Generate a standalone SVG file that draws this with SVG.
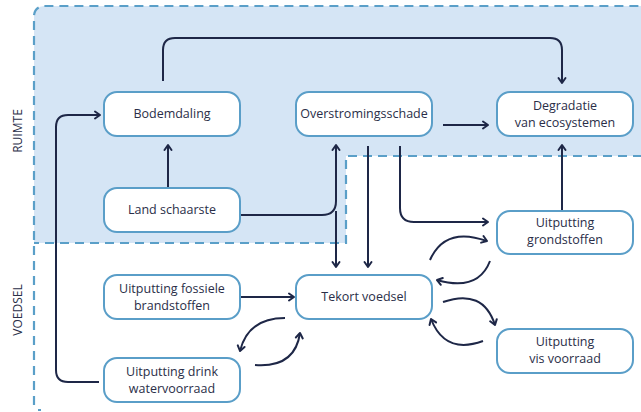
<svg xmlns="http://www.w3.org/2000/svg" width="641" height="412" viewBox="0 0 641 412">
<defs>
<style>
.region{fill:#d5e5f5;stroke:none}
.border{fill:none;stroke:#5a9fc8;stroke-width:2.2;stroke-dasharray:9 6}
.node rect{fill:#ffffff;stroke:#5a9ec8;stroke-width:2}
.node text{font-family:"Open Sans","Noto Sans",sans-serif;font-size:12.5px;fill:#2a2e48;text-anchor:middle}
.lbl{font-family:"Open Sans","Noto Sans",sans-serif;font-size:12px;fill:#2a2e48;text-anchor:middle}
.conn path{fill:none;stroke:#1e2747;stroke-width:2;marker-end:url(#arr)}
</style>
<marker id="arr" viewBox="0 0 10 10" refX="8" refY="5" markerWidth="10" markerHeight="10" markerUnits="userSpaceOnUse" orient="auto">
<path d="M3,1.5 L8,5 L3,8.5" fill="none" stroke="#1e2747" stroke-width="2" stroke-linecap="round" stroke-linejoin="round"/>
</marker>
</defs>
<path class="region" d="M34,16 A10,10 0 0 1 44,6 H642 V156 H346 V243 H34 Z"/>
<path class="border" d="M34,405 V16 A10,10 0 0 1 44,6 H642"/>
<path class="border" d="M642,156 H346 V243 H34"/>
<path d="M38,410 H41" fill="none" stroke="#5a9fc8" stroke-width="2"/>
<text class="lbl" transform="translate(22,131) rotate(-90)">RUIMTE</text>
<text class="lbl" transform="translate(22,310) rotate(-90)">VOEDSEL</text>
<g class="conn" id="connectors">
<path d="M163,81 V50 Q163,38 175,38 H550 Q562,38 562,50 V83"/>
<path d="M168,188 V145"/>
<path d="M99,382 H68 Q56,382 56,370 V127 Q56,115 68,115 H100"/>
<path d="M240,215 H322 Q336,215 336,201 V145"/>
<path d="M336,211 V267"/>
<path d="M368,146 V267"/>
<path d="M400,146 V208 Q400,222 414,222 H488"/>
<path d="M443,125 H488"/>
<path d="M562,211 V145"/>
<path d="M240,297 H294"/>
<path d="M285,318 Q248,318 240,351"/>
<path d="M255,365 Q295,368 300,333"/>
<path d="M430,260 Q445,226 487,241"/>
<path d="M490,261 Q478,292 437,280"/>
<path d="M443,302 Q483,288 495,325"/>
<path d="M483,341 Q445,355 431,319"/>
</g>
<g class="node" id="bodemdaling"><rect x="104" y="92" width="136" height="44" rx="13"/><text x="172" y="118">Bodemdaling</text></g>
<g class="node" id="overstromingsschade"><rect x="296" y="92" width="136" height="44" rx="13"/><text x="364" y="118">Overstromingsschade</text></g>
<g class="node" id="degradatie"><rect x="497" y="92" width="136" height="44" rx="13"/><text x="565" y="110">Degradatie</text><text x="565" y="127">van ecosystemen</text></g>
<g class="node" id="landschaarste"><rect x="104" y="188" width="136" height="44" rx="13"/><text x="172" y="214">Land schaarste</text></g>
<g class="node" id="grondstoffen"><rect x="497" y="211" width="136" height="43" rx="13"/><text x="565" y="227">Uitputting</text><text x="565" y="244">grondstoffen</text></g>
<g class="node" id="fossiele"><rect x="104" y="275" width="136" height="44" rx="13"/><text x="172" y="293">Uitputting fossiele</text><text x="172" y="310">brandstoffen</text></g>
<g class="node" id="tekort"><rect x="296" y="275" width="136" height="44" rx="13"/><text x="364" y="301">Tekort voedsel</text></g>
<g class="node" id="vis"><rect x="497" y="329" width="136" height="44" rx="13"/><text x="565" y="346">Uitputting</text><text x="565" y="363">vis voorraad</text></g>
<g class="node" id="drinkwater"><rect x="104" y="358" width="136" height="44" rx="13"/><text x="172" y="376">Uitputting drink</text><text x="172" y="393">watervoorraad</text></g>
</svg>
